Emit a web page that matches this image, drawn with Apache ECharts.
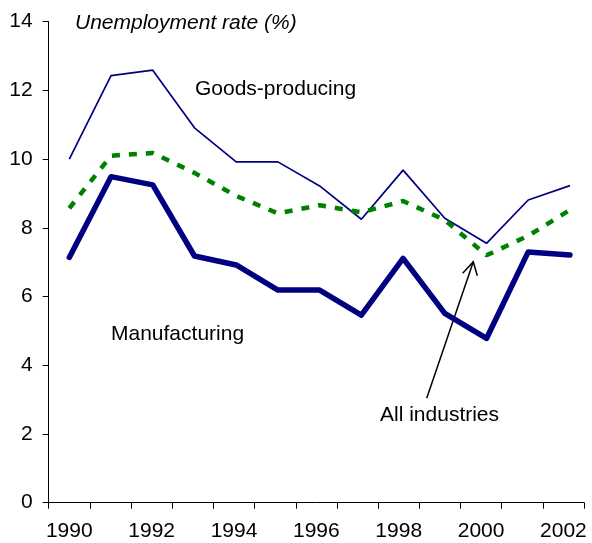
<!DOCTYPE html>
<html>
<head>
<meta charset="utf-8">
<script src="https://cdn.jsdelivr.net/npm/echarts@6/dist/echarts.min.js"></script>
<style>
    html, body { margin: 0; padding: 0; background: #fff; }
    #chart { width: 592px; height: 543px; }
</style>
</head>
<body>
<div id="chart"></div>
<script>
// 数据
const years = ['1990', '1991', '1992', '1993', '1994', '1995', '1996', '1997', '1998', '1999', '2000', '2001', '2002']
const goodsProducing = [10.0, 12.43, 12.59, 10.91, 9.92, 9.92, 9.22, 8.25, 9.68, 8.28, 7.55, 8.81, 9.23]
const allIndustries = [8.57, 10.1, 10.18, 9.6, 8.93, 8.42, 8.66, 8.45, 8.78, 8.23, 7.2, 7.77, 8.52]
const manufacturing = [7.14, 9.49, 9.25, 7.18, 6.92, 6.19, 6.19, 5.46, 7.11, 5.51, 4.78, 7.3, 7.21]
const yTicks = [0, 2, 4, 6, 8, 10, 12, 14]

const font = 'Liberation Sans, Arial, sans-serif'

// 把年份和数值配对
function pairs(values) {
    let out = []
    for (let i = 0, length = years.length; i < length; i++) {
        out.push([Number(years[i]), values[i]])
    }
    return out
}

let myChart = echarts.init(document.getElementById('chart'), null, {renderer: 'canvas'})
myChart.setOption({
    animation: false,
    backgroundColor: '#ffffff',
    grid: {left: 48.7, right: 8, top: 21.7, bottom: 40.3},
    xAxis: [
        {
            // 刻度和年份标签
            type: 'category',
            data: years,
            boundaryGap: true,
            axisLine: {lineStyle: {color: '#000', width: 1}},
            axisTick: {show: true, interval: 0, length: 6, lineStyle: {color: '#000'}},
            axisLabel: {
                interval: 1,
                margin: 18,
                fontFamily: font,
                fontSize: 21,
                color: '#000'
            },
            splitLine: {show: false}
        },
        {
            // 折线位置用的隐藏轴
            type: 'value',
            min: 1989.506,
            max: 2002.337,
            show: false,
            splitLine: {show: false}
        }
    ],
    yAxis: {
        type: 'value',
        min: yTicks[0],
        max: yTicks[yTicks.length - 1],
        interval: 2,
        axisLine: {show: true, lineStyle: {color: '#000', width: 1}},
        axisTick: {show: true, length: 6, lineStyle: {color: '#000'}},
        axisLabel: {
            margin: 16,
            fontFamily: font,
            fontSize: 21,
            color: '#000'
        },
        splitLine: {show: false}
    },
    series: [
        {
            name: 'Goods-producing',
            type: 'line',
            xAxisIndex: 1,
            data: pairs(goodsProducing),
            symbol: 'none',
            lineStyle: {color: '#000080', width: 1.7}
        },
        {
            name: 'All industries',
            type: 'line',
            xAxisIndex: 1,
            data: pairs(allIndustries),
            symbol: 'none',
            lineStyle: {color: '#008000', width: 4.5, type: [8, 9], cap: 'butt'}
        },
        {
            name: 'Manufacturing',
            type: 'line',
            xAxisIndex: 1,
            data: pairs(manufacturing),
            symbol: 'none',
            lineStyle: {color: '#000080', width: 5.5, join: 'round', cap: 'round'}
        }
    ],
    graphic: [
        {
            type: 'text', left: 75, top: 13,
            style: {text: 'Unemployment rate (%)', font: 'italic 21px ' + font, fill: '#000'}
        },
        {
            type: 'text', left: 195, top: 79,
            style: {text: 'Goods-producing', font: '21px ' + font, fill: '#000'}
        },
        {
            type: 'text', left: 111, top: 324,
            style: {text: 'Manufacturing', font: '21px ' + font, fill: '#000'}
        },
        {
            type: 'text', left: 380, top: 405,
            style: {text: 'All industries', font: '21px ' + font, fill: '#000'}
        },
        // 箭头
        {
            type: 'line',
            shape: {x1: 426.7, y1: 398.3, x2: 473.3, y2: 261.7},
            style: {stroke: '#000', lineWidth: 1.5}
        },
        {
            type: 'polyline',
            shape: {points: [[462.7, 273.3], [473.3, 261.7], [477.3, 275.7]]},
            style: {stroke: '#000', lineWidth: 1.5, fill: null}
        }
    ]
})
</script>
</body>
</html>
